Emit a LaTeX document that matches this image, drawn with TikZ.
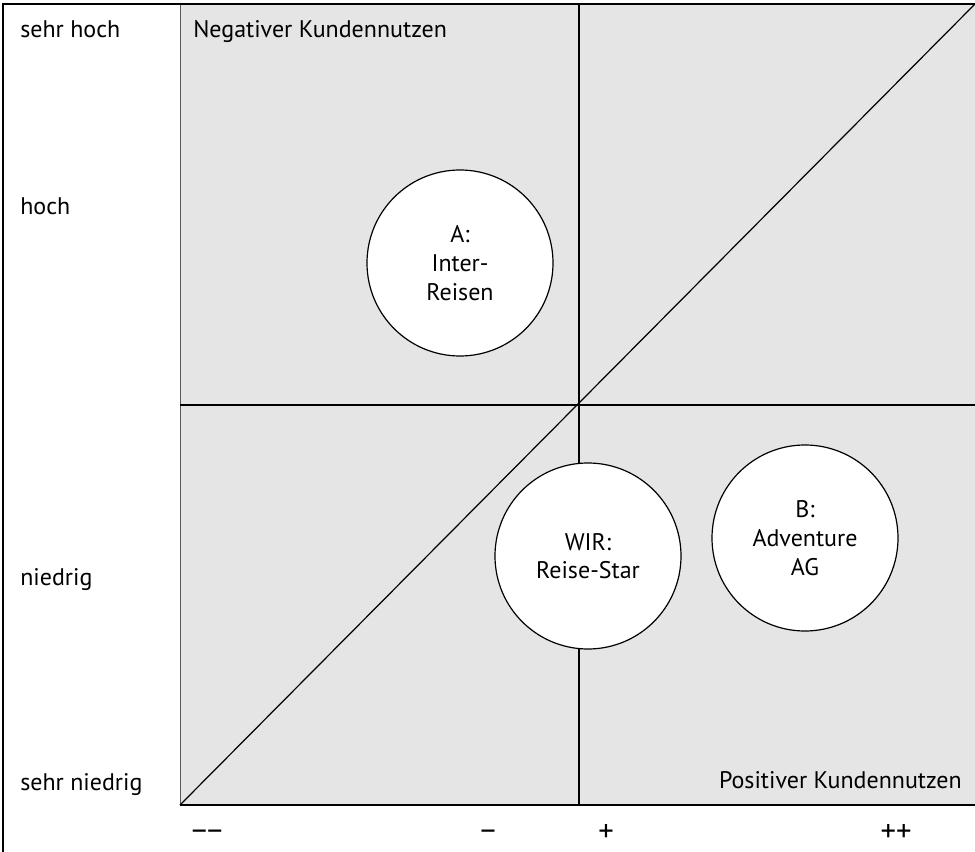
\documentclass[tikz,border=0pt]{standalone}
\usepackage{fontspec}
\setmainfont{PT Sans}
\begin{document}
\begin{tikzpicture}[x=0.75pt,y=-0.75pt,
  every node/.style={font=\fontsize{18}{21.5}\selectfont, inner sep=0pt},
  axlabel/.style={anchor=base west},
  tick/.style={anchor=base, font=\fontsize{23}{26}\selectfont},
  firm/.style={circle, draw=black, line width=0.9pt, fill=white, minimum size=186*0.75pt, align=center},
  gridline/.style={draw=black, line width=0.9pt}
]
\useasboundingbox (0,0) rectangle (975,852);
% frame
\fill[gray!20] (180,4) rectangle (975,805);
\draw[gray!70!black, line width=0.6pt] (180,4) -- (180,805);
\coordinate (tl) at (3,4);
\coordinate (tr) at (975,4);
\coordinate (bl) at (3,852);
\draw[black, line width=1.2pt] (bl) -- (tl) -- (tr);
% axes / quadrant lines
\coordinate (o) at (180,805);
\coordinate (br) at (975,805);
\coordinate (vt) at (579,4);
\coordinate (vb) at (579,805);
\coordinate (hl) at (180,405);
\coordinate (hr) at (975,405);
\coordinate (dtr) at (975,4);
\draw[gridline, line width=1.2pt] (o) -- (br);
\draw[gridline] (vt) -- (vb);
\draw[gridline] (hl) -- (hr);
\draw[gridline] (o) -- (dtr);
% circles
\node[firm] (A) at (460,263) {A:\\Inter-\\Reisen};
\node[firm] (W) at (588,556) {WIR:\\Reise-Star};
\node[firm] (B) at (805,538) {B:\\Adventure\\AG};
% left labels
\node[axlabel] (l1) at (20,38) {sehr hoch};
\node[axlabel] (l2) at (20,215) {hoch};
\node[axlabel] (l3) at (20,585) {niedrig};
\node[axlabel] (l4) at (20,790) {sehr niedrig};
% quadrant labels
\node[axlabel] (neg) at (193,38) {Negativer Kundennutzen};
\node[anchor=base east] (pos) at (962,788) {Positiver Kundennutzen};
% bottom ticks
\node[tick] (t1) at (207,841) {−−};
\node[tick] (t2) at (488,841) {−};
\node[tick] (t3) at (606,841) {+};
\node[tick] (t4) at (896,841) {++};
\end{tikzpicture}
\end{document}
